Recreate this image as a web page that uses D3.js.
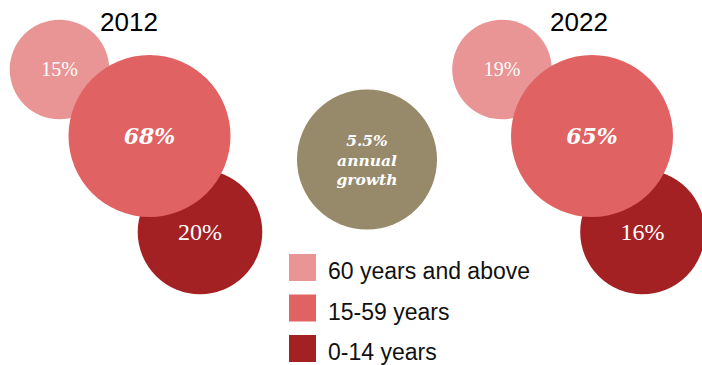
<!DOCTYPE html>
<html>
<head>
<meta charset="utf-8">
<script src="https://cdn.jsdelivr.net/npm/d3@7"></script>
<style>
  html, body { margin: 0; padding: 0; background: #fff; }
  svg { display: block; }
</style>
</head>
<body>
<svg id="chart" width="702" height="365"></svg>
<script>
// Population share by age group, in percent
const years = ["2012", "2022"];
const ageGroups = ["60 years and above", "15-59 years", "0-14 years"];
const share2012 = [15, 68, 20];
const share2022 = [19, 65, 16];
const growthLines = ["5.5%", "annual", "growth"];

const shares = { "2012": share2012, "2022": share2022 };

const svg = d3.select("#chart");

const color = d3.scaleOrdinal()
  .domain(ageGroups)
  .range(["#E99595", "#E06262", "#A32023"]);

// Anchor (centre of the oldest-group bubble) for each year's cluster
const anchorX = d3.scaleOrdinal().domain(years).range([59.5, 502]);
const titleX = d3.scaleOrdinal().domain(years).range([129, 579]);

// Bubble placement within a cluster, per age group
const bubble = {
  "60 years and above": { dx: 0,     cy: 69.5, r: 49.8, size: 20, cls: "reg" },
  "15-59 years":        { dx: 90,    cy: 136,  r: 81,   size: 22, cls: "bold" },
  "0-14 years":         { dx: 140.5, cy: 232,  r: 62.3, size: 24, cls: "reg" }
};
// draw order: small, dark, then the large middle bubble on top
const drawOrder = [0, 2, 1];

years.forEach(year => {
  const g = svg.append("g");
  const items = drawOrder.map(i => ({ group: ageGroups[i], value: shares[year][i] }));

  const node = g.selectAll("g.bubble")
    .data(items)
    .join("g")
    .attr("class", "bubble")
    .attr("transform", d => `translate(${anchorX(year) + bubble[d.group].dx},${bubble[d.group].cy})`);

  node.append("circle")
    .attr("r", d => bubble[d.group].r)
    .attr("fill", d => color(d.group));

  node.append("text")
    .attr("text-anchor", "middle")
    .attr("dy", d => bubble[d.group].cls === "bold" ? "0.36em" : "0.34em")
    .attr("fill", "#fff")
    .style("font-family", d => bubble[d.group].cls === "bold" ? "'DejaVu Serif', serif" : "'Liberation Serif', serif")
    .style("font-weight", d => bubble[d.group].cls === "bold" ? "bold" : "normal")
    .style("font-style", d => bubble[d.group].cls === "bold" ? "italic" : "normal")
    .style("font-size", d => bubble[d.group].size + "px")
    .text(d => d.value + "%");

  g.append("text")
    .attr("x", titleX(year))
    .attr("y", 31)
    .attr("text-anchor", "middle")
    .style("font-family", "'Liberation Sans', Arial, sans-serif")
    .style("font-size", "26px")
    .attr("fill", "#000")
    .text(year);
});

// Growth bubble in the centre
const growth = svg.append("g").attr("transform", "translate(367,159.5)");
growth.append("circle").attr("r", 70).attr("fill", "#978A6A");
growth.append("text")
  .attr("text-anchor", "middle")
  .attr("fill", "#fff")
  .style("font-family", "'DejaVu Serif', serif")
  .style("font-weight", "bold")
  .style("font-style", "italic")
  .style("font-size", "15.5px")
  .selectAll("tspan")
  .data(growthLines)
  .join("tspan")
  .attr("x", 0)
  .attr("y", (d, i) => -13.5 + i * 19.5)
  .text(d => d);

// Legend
const legendY = d3.scalePoint().domain(ageGroups).range([254, 335]);
const legend = svg.append("g").selectAll("g")
  .data(ageGroups)
  .join("g")
  .attr("transform", d => `translate(289,${legendY(d)})`);

legend.append("rect")
  .attr("width", 27)
  .attr("height", 27)
  .attr("fill", d => color(d));

legend.append("text")
  .attr("x", 39)
  .attr("y", 25.3)
  .style("font-family", "'Liberation Sans', Arial, sans-serif")
  .style("font-size", "23px")
  .attr("fill", "#111")
  .text(d => d);
</script>
</body>
</html>
